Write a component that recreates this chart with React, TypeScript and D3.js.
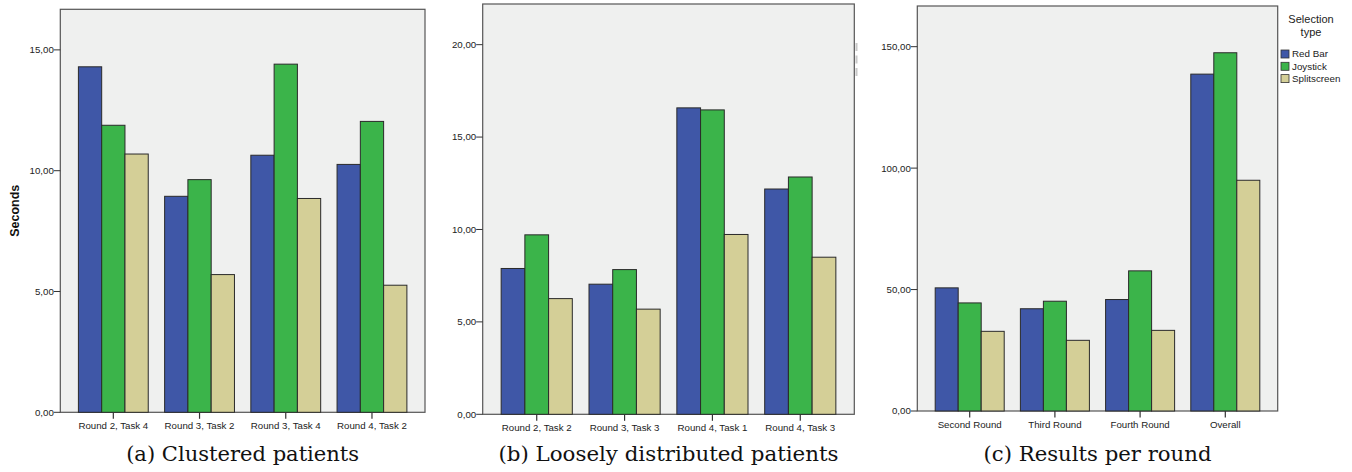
import React from 'react';
import * as d3 from 'd3';

// series shared by all three panels
const seriesNames = ['Red Bar', 'Joystick', 'Splitscreen'];
const seriesColors = ['#3f57a7', '#3bb44a', '#d4cf97'];

// (a) Clustered patients
const catsA = ['Round 2, Task 4', 'Round 3, Task 2', 'Round 3, Task 4', 'Round 4, Task 2'];
const redBarA = [14.3, 8.94, 10.64, 10.26];
const joystickA = [11.88, 9.63, 14.41, 12.04];
const splitA = [10.69, 5.7, 8.85, 5.26];
const ticksA = [0, 5, 10, 15];

// (b) Loosely distributed patients
const catsB = ['Round 2, Task 2', 'Round 3, Task 3', 'Round 4, Task 1', 'Round 4, Task 3'];
const redBarB = [7.89, 7.04, 16.58, 12.19];
const joystickB = [9.71, 7.83, 16.47, 12.84];
const splitB = [6.26, 5.69, 9.73, 8.5];
const ticksB = [0, 5, 10, 15, 20];

// (c) Results per round
const catsC = ['Second Round', 'Third Round', 'Fourth Round', 'Overall'];
const redBarC = [50.7, 42.1, 45.9, 138.7];
const joystickC = [44.5, 45.2, 57.7, 147.5];
const splitC = [32.8, 29.1, 33.2, 95.0];
const ticksC = [0, 50, 100, 150];

const sans = '"Liberation Sans", Arial, Helvetica, sans-serif';
const serif = '"DejaVu Serif", "Liberation Serif", serif';

const fmt = (v: number) => d3.format('.2f')(v).replace('.', ',');

interface PanelProps {
  cats: string[];
  series: number[][];
  ticks: number[];
  yMax: number;
  box: { x0: number; x1: number; y0: number; y1: number };
  caption: string;
  captionWidth: number;
  yLabel?: string;
}

const Panel: React.FC<PanelProps> = ({ cats, series, ticks, yMax, box, caption, captionWidth, yLabel }) => {
  const x = d3.scaleBand<string>()
    .domain(cats)
    .range([box.x0, box.x1])
    .paddingInner(0.19)
    .paddingOuter(0.21);

  const xs = d3.scaleBand<number>()
    .domain(d3.range(series.length))
    .range([0, x.bandwidth()]);

  const y = d3.scaleLinear().domain([0, yMax]).range([box.y1, box.y0]);

  const cx = (box.x0 + box.x1) / 2;

  return (
    <g>
      <rect x={box.x0} y={box.y0} width={box.x1 - box.x0} height={box.y1 - box.y0}
        fill="#eff0ef" stroke="#555" strokeWidth={1.2} />

      {cats.map((c, i) => (
        <g key={c}>
          {series.map((s, j) => (
            <rect key={j}
              x={(x(c) as number) + (xs(j) as number)}
              y={y(s[i])}
              width={xs.bandwidth()}
              height={y(0) - y(s[i])}
              fill={seriesColors[j]}
              stroke="#2a2a2a"
              strokeWidth={1} />
          ))}
        </g>
      ))}

      {/* y axis */}
      {ticks.map(t => (
        <g key={t}>
          <line x1={box.x0 - 6.5} x2={box.x0} y1={y(t)} y2={y(t)} stroke="#333" strokeWidth={1} />
          <text x={box.x0 - 6.5} y={y(t)} dy="0.35em" textAnchor="end"
            fontFamily={sans} fontSize={9.7} fill="#222">{fmt(t)}</text>
        </g>
      ))}

      {/* x axis */}
      {cats.map(c => {
        const px = (x(c) as number) + x.bandwidth() / 2;
        return (
          <g key={c}>
            <line x1={px} x2={px} y1={box.y1} y2={box.y1 + 6.5} stroke="#333" strokeWidth={1.2} />
            <text x={px} y={box.y1 + 17} textAnchor="middle"
              fontFamily={sans} fontSize={9.7} fill="#222">{c}</text>
          </g>
        );
      })}

      {yLabel && (
        <text transform={`translate(19,${(box.y0 + box.y1) / 2}) rotate(-90)`} textAnchor="middle"
          fontFamily={sans} fontSize={12.5} fontWeight="bold" fill="#111">{yLabel}</text>
      )}

      <text x={cx} y={461} textAnchor="middle" fontFamily={serif} fontSize={21}
        textLength={captionWidth} lengthAdjust="spacingAndGlyphs" fill="#111">{caption}</text>
    </g>
  );
};

const Legend: React.FC<{ x: number; y: number }> = ({ x, y }) => (
  <g>
    <text x={x + 30} y={y} textAnchor="middle" fontFamily={sans} fontSize={11} fill="#222">Selection</text>
    <text x={x + 30} y={y + 12.7} textAnchor="middle" fontFamily={sans} fontSize={11} fill="#222">type</text>
    {seriesNames.map((n, i) => (
      <g key={n} transform={`translate(${x},${y + 27 + i * 12.3})`}>
        <rect x={0} y={0} width={8} height={8} fill={seriesColors[i]} stroke="#333" strokeWidth={0.8} />
        <text x={11} y={4} dy="0.35em" fontFamily={sans} fontSize={9.8} fill="#222">{n}</text>
      </g>
    ))}
  </g>
);

export default function App() {
  return (
    <svg width={1352} height={472} style={{ position: 'absolute', left: 0, top: 0, background: '#fff' }}>
      <Panel cats={catsA} series={[redBarA, joystickA, splitA]} ticks={ticksA} yMax={16.68}
        box={{ x0: 60.3, x1: 425, y0: 9.3, y1: 412.3 }}
        caption="(a) Clustered patients" captionWidth={233} yLabel="Seconds" />
      <Panel cats={catsB} series={[redBarB, joystickB, splitB]} ticks={ticksB} yMax={22.2}
        box={{ x0: 482.7, x1: 854.3, y0: 4, y1: 414.3 }}
        caption="(b) Loosely distributed patients" captionWidth={340} />
      {/* remnants of a cropped legend next to panel (b) */}
      {[43, 55.5, 68].map(v => (
        <rect key={v} x={855.5} y={v} width={2} height={8} fill="#c8c8c8" />
      ))}
      <Panel cats={catsC} series={[redBarC, joystickC, splitC]} ticks={ticksC} yMax={166.75}
        box={{ x0: 917.3, x1: 1277.7, y0: 6, y1: 411 }}
        caption="(c) Results per round" captionWidth={228} />
      <Legend x={1281} y={23} />
    </svg>
  );
}
